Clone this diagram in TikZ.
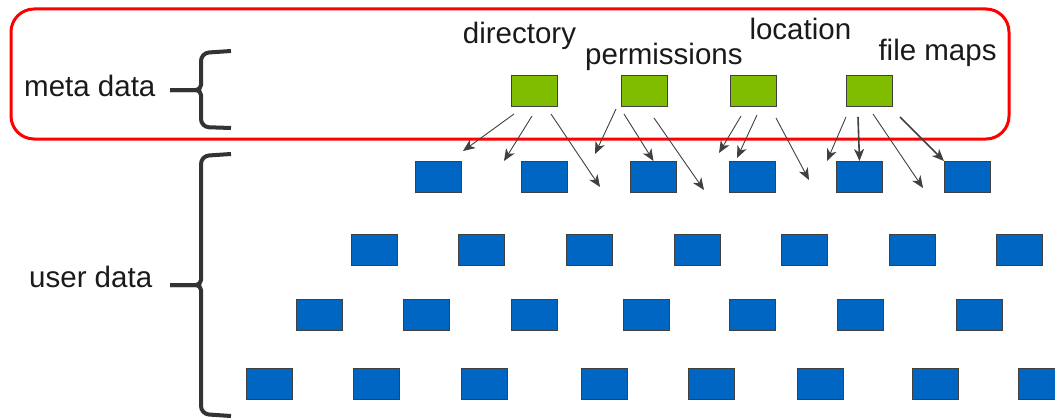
\documentclass[tikz,border=0pt]{standalone}
\usepackage{fontspec}
\setmainfont{Liberation Sans}
\usetikzlibrary{arrows.meta}
\definecolor{metared}{RGB}{255,0,0}
\definecolor{leafgreen}{RGB}{128,188,0}
\definecolor{blockblue}{RGB}{0,102,196}
\definecolor{edgegray}{RGB}{64,64,64}
\definecolor{bracegray}{RGB}{51,51,51}
\definecolor{textdark}{RGB}{26,26,26}
\begin{document}
\begin{tikzpicture}[x=1pt,y=-1pt,
  metabox/.style={draw=edgegray, line width=1pt, fill=leafgreen, minimum width=46pt, minimum height=31pt, inner sep=0pt, anchor=north west},
  userbox/.style={draw=edgegray, line width=1pt, fill=blockblue, minimum width=46pt, minimum height=31pt, inner sep=0pt, anchor=north west},
  lbl/.style={font=\fontsize{29.5}{30}\selectfont, text=textdark, inner sep=0pt, anchor=base west},
  ptr/.style={draw=edgegray, line width=0.9pt, -{Stealth[length=12pt,width=10pt,inset=3.5pt]}},
  ptrbold/.style={ptr, line width=1.6pt},
  bracket/.style={draw=bracegray, line width=4pt, rounded corners=8pt},
  frame/.style={draw=metared, line width=3pt, rounded corners=23pt}]
\useasboundingbox (0,0) rectangle (1055,420);

% meta data frame
\draw[frame] (11,9) rectangle (1009,139);

% labels
\node[lbl] (lmeta) at (24,96) {meta data};
\node[lbl] (luser) at (29,287) {user data};
\node[lbl] (ldir) at (462.7,43.3) {directory};
\node[lbl] (lperm) at (585,65) {permissions};
\node[lbl] (lloc) at (749.3,40) {location};
\node[lbl] (lmap) at (878.3,60) {file maps};

% braces
\draw[bracket] (231,51) -- (201,53) [rounded corners=5pt] -- (201,90) -- (170,90);
\draw[bracket] (231,128) -- (201,127) [rounded corners=5pt] -- (201,90) -- (170,90);
\draw[bracket] (231,154) -- (201,156) [rounded corners=5pt] -- (201,285) -- (170,285);
\draw[bracket] (231,416) -- (201,414) [rounded corners=5pt] -- (201,285) -- (170,285);

% meta data boxes
\node[metabox] (g1) at (510.7,75) {};
\node[metabox] (g2) at (621,75) {};
\node[metabox] (g3) at (730,75) {};
\node[metabox] (g4) at (845.5,75) {};

% user data boxes
\foreach \x [count=\i] in {415,521,630,729,836,944}
  \node[userbox] (b1\i) at (\x,161) {};
\foreach \x [count=\i] in {350.5,458,566,674,781,889,995.5}
  \node[userbox] (b2\i) at (\x,234) {};
\foreach \x [count=\i] in {296,403,510.5,622.5,729,837,955.5}
  \node[userbox] (b3\i) at (\x,299) {};
\foreach \x [count=\i] in {246,353,460.5,581,688,797,911.5,1018}
  \node[userbox] (b4\i) at (\x,368) {};

% pointer ends
\coordinate (e1) at (463,151);
\coordinate (e2) at (504,161);
\coordinate (e3) at (600,187);
\coordinate (e4) at (595,154);
\coordinate (e6) at (704,190);
\coordinate (e7) at (719,153);
\coordinate (e8) at (737,158);
\coordinate (e9) at (809,180);
\coordinate (e10) at (827,161);
\coordinate (e12) at (923,188);

% pointers
\draw[ptr] ([shift={(3.3,7)}]g1.south west) -- (e1);
\draw[ptr] ([shift={(21.3,9)}]g1.south west) -- (e2);
\draw[ptr] ([shift={(40.3,7)}]g1.south west) -- (e3);
\draw[ptr] ([shift={(-5,2)}]g2.south west) -- (e4);
\draw[ptr] ([shift={(3,7)}]g2.south west) -- (b13.north);
\draw[ptr] ([shift={(33,11)}]g2.south west) -- (e6);
\draw[ptr] ([shift={(11,9)}]g3.south west) -- (e7);
\draw[ptr] ([shift={(27,8)}]g3.south west) -- (e8);
\draw[ptr] ([shift={(46,11)}]g3.south west) -- (e9);
\draw[ptr] ([shift={(0.5,10)}]g4.south west) -- (e10);
\draw[ptrbold] ([shift={(12.5,10)}]g4.south west) -- (b15.north);
\draw[ptr] ([shift={(27.5,7)}]g4.south west) -- (e12);
\draw[ptrbold] ([shift={(54.5,10)}]g4.south west) -- (b16.north west);
\end{tikzpicture}
\end{document}
